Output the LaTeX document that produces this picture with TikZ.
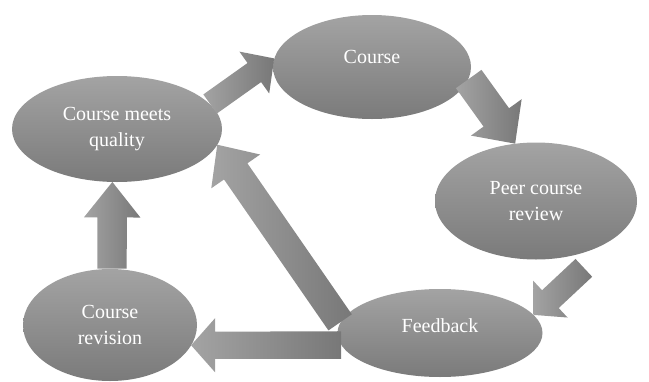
\documentclass[tikz,border=0pt]{standalone}
\usepackage{fontspec}
\setmainfont{Liberation Serif}
\usetikzlibrary{shapes,arrows,calc}

\begin{document}
\begin{tikzpicture}[x=1pt,y=-1pt,font=\fontsize{20}{26}\selectfont]
\tikzstyle{stage}=[ellipse,inner sep=0pt,align=center,text=white,top color=black!36,bottom color=black!52]
\tikzstyle{flow}=[single arrow,sloped,allow upside down,pos=0,anchor=tail,inner xsep=0pt,minimum width=0pt,left color=black!36,right color=black!53]
\useasboundingbox (0,0) rectangle (649,381);
\node[stage,minimum width=210pt,minimum height=106pt] (cmq) at (117,129) {Course meets\\quality};
\node[stage,minimum width=198pt,minimum height=104pt,text depth=20pt] (course) at (372,67) {Course};
\node[stage,minimum width=202pt,minimum height=117pt] (peer) at (536,201) {Peer course\\review};
\node[stage,minimum width=205pt,minimum height=88pt,text depth=14pt] (fb) at (440,333) {Feedback};
\node[stage,minimum width=174pt,minimum height=112pt] (rev) at (110,325) {Course\\revision};
\coordinate (pfb) at ($(peer.south)+(48,8)$);
% block arrows
\path let \p1=($(course.175)-(cmq.15)$) in (cmq.15) -- node[flow,inner ysep=11.5pt,single arrow head extend=14pt,single arrow tip angle=93,minimum height={veclen(\x1,\y1)}]{} (course.175);
\path let \p1=($(peer.110)-(course.-7.5)$) in (course.-7.5) -- node[flow,inner ysep=15.5pt,single arrow head extend=15.5pt,single arrow tip angle=88,minimum height={veclen(\x1,\y1)}]{} (peer.110);
\path let \p1=($(fb.11.5)-(pfb)$) in (pfb) -- node[flow,inner ysep=12pt,single arrow head extend=13pt,single arrow tip angle=95,minimum height={veclen(\x1,\y1)}]{} (fb.11.5);
\path let \p1=($(cmq.-95.8)-(rev.88.5)$) in (rev.88.5) -- node[flow,inner ysep=14.5pt,single arrow head extend=13.5pt,single arrow tip angle=77,minimum height={veclen(\x1,\y1)}]{} (cmq.-95.8);
\path let \p1=($(rev.-14)-(fb.187)$) in (fb.187) -- node[flow,inner ysep=13.5pt,single arrow head extend=13.5pt,single arrow tip angle=97,minimum height={veclen(\x1,\y1)}]{} (rev.-14);
\path let \p1=($(cmq.-9.1)-(fb.174.7)$) in (fb.174.7) -- node[flow,inner ysep=14pt,single arrow head extend=15.5pt,single arrow tip angle=85,minimum height={veclen(\x1,\y1)}]{} (cmq.-9.1);
\end{tikzpicture}
\end{document}
